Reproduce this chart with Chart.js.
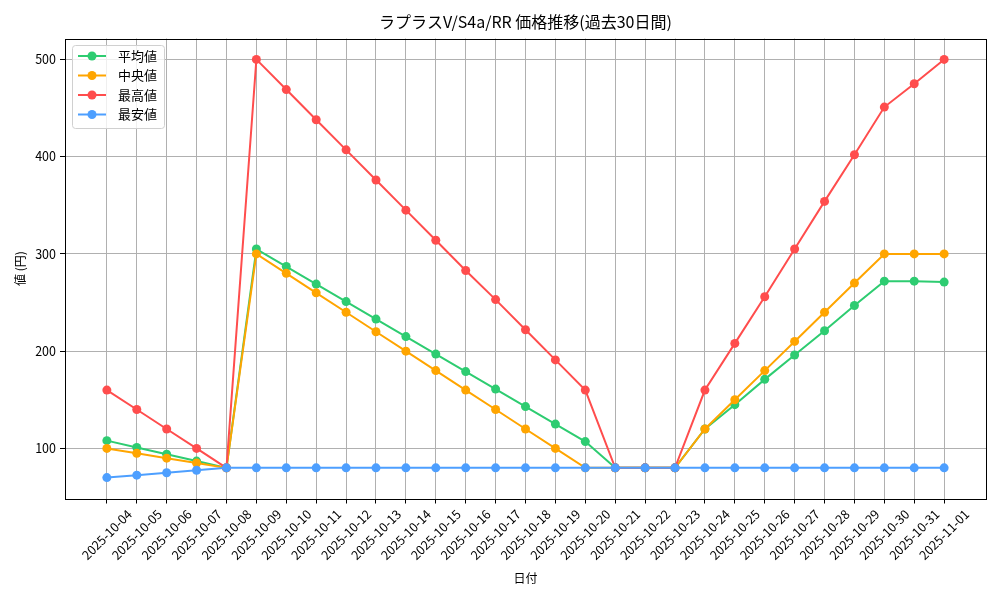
<!DOCTYPE html>
<html lang="ja">
<head>
<meta charset="utf-8">
<script src="https://cdn.jsdelivr.net/npm/chart.js@4/dist/chart.umd.min.js"></script>
<style>
  html,body{margin:0;padding:0;background:#fff;}
  #wrap{width:1000px;height:600px;}
</style>
</head>
<body>
<div id="wrap"><canvas id="c" width="1000" height="600"></canvas></div>
<script>
const FONT = '"Noto Sans CJK JP", "DejaVu Sans", sans-serif';

const dates = ['2025-10-04','2025-10-05','2025-10-06','2025-10-07','2025-10-08','2025-10-09','2025-10-10',
  '2025-10-11','2025-10-12','2025-10-13','2025-10-14','2025-10-15','2025-10-16','2025-10-17','2025-10-18',
  '2025-10-19','2025-10-20','2025-10-21','2025-10-22','2025-10-23','2025-10-24','2025-10-25','2025-10-26',
  '2025-10-27','2025-10-28','2025-10-29','2025-10-30','2025-10-31','2025-11-01'];

const avgVals = [108,101,94,87,80,305,287,269,251,233,215,197,179,161,143,125,107,80,80,80,120,145,171,196,221,247,272,272,271];
const medVals = [100,95,90,85,80,300,280,260,240,220,200,180,160,140,120,100,80,80,80,80,120,150,180,210,240,270,300,300,300];
const maxVals = [160,140,120,100,80,500,469,438,407,376,345,314,283,253,222,191,160,80,80,80,160,208,256,305,354,402,451,475,500];
const minVals = [70,72.5,75,77.5,80,80,80,80,80,80,80,80,80,80,80,80,80,80,80,80,80,80,80,80,80,80,80,80,80];

const yTicks = [100,200,300,400,500];
const seriesNames = ['平均値','中央値','最高値','最安値'];
const colors = ['#2ecc71','#ffa500','#ff4d4d','#4d9fff'];
const titleText = 'ラプラスV/S4a/RR 価格推移(過去30日間)';

const pts = arr => arr.map((v,i)=>({x:i, y:v}));

function ds(i, vals){
  return {
    label: seriesNames[i], data: pts(vals),
    borderColor: colors[i], backgroundColor: colors[i],
    borderWidth: 2, pointRadius: 4.5, pointHoverRadius: 4.5,
    pointBorderWidth: 0, tension: 0, order: 4 - i
  };
}

// frame, title, rotated date labels (centred on ticks) and in-plot legend
const decor = {
  id:'decor',
  afterDatasetsDraw(chart){
    const {ctx, chartArea:a} = chart;
    const xs = chart.scales.x;
    ctx.save();
    ctx.strokeStyle = '#000'; ctx.lineWidth = 1;
    ctx.strokeRect(Math.round(a.left)+0.5, Math.round(a.top)+0.5, Math.round(a.right-a.left), Math.round(a.bottom-a.top));

    // x tick labels, rotated 45deg, bbox centred under the tick
    ctx.font = '12.5px ' + FONT;
    ctx.fillStyle = '#000';
    ctx.textAlign = 'center'; ctx.textBaseline = 'middle';
    const h = 12.5, c = Math.SQRT1_2;
    dates.forEach((d,i)=>{
      const w = ctx.measureText(d).width;
      const side = (w + h) * c;
      const px = xs.getPixelForValue(i);
      const py = a.bottom + 5 + 4 + side/2;
      ctx.save();
      ctx.translate(px, py);
      ctx.rotate(-Math.PI/4);
      ctx.fillText(d, 0, 0);
      ctx.restore();
    });

    // legend
    const lx = 72, ly = 45, lw = 92, lh = 83;
    ctx.fillStyle = 'rgba(255,255,255,0.8)';
    ctx.strokeStyle = '#d0d0d0';
    ctx.beginPath();
    ctx.roundRect(lx+0.5, ly+0.5, lw, lh, 3);
    ctx.fill(); ctx.stroke();
    ctx.font = '13px ' + FONT;
    ctx.textAlign = 'left';
    ctx.textBaseline = 'middle';
    seriesNames.forEach((n,i)=>{
      const y = ly + 11 + i*19.5;
      ctx.strokeStyle = colors[i]; ctx.lineWidth = 2;
      ctx.beginPath(); ctx.moveTo(lx+6, y); ctx.lineTo(lx+34, y); ctx.stroke();
      ctx.fillStyle = colors[i];
      ctx.beginPath(); ctx.arc(lx+20, y, 4.5, 0, Math.PI*2); ctx.fill();
      ctx.fillStyle = '#000';
      ctx.fillText(n, lx+46, y);
    });

    ctx.font = '16px ' + FONT;
    ctx.textAlign = 'center';
    ctx.fillText(titleText, (a.left+a.right)/2, 22);
    ctx.restore();
  }
};

new Chart(document.getElementById('c'), {
  type:'line',
  data:{ datasets:[ds(0,avgVals), ds(1,medVals), ds(2,maxVals), ds(3,minVals)] },
  options:{
    responsive:false, animation:false,
    layout:{padding:{left:0, right:14, top:38.5, bottom:0}},
    plugins:{legend:{display:false}, tooltip:{enabled:false}, title:{display:false}},
    scales:{
      x:{
        type:'linear', min:-1.4, max:29.4,
        afterBuildTicks: s => { s.ticks = dates.map((d,i)=>({value:i})); },
        afterFit: s => { s.height = 101.5; },
        ticks:{ display:false },
        grid:{ color:'#b0b0b0', lineWidth:1, tickColor:'#000', tickLength:5 },
        border:{display:false},
        title:{display:true, text:'日付', color:'#000', font:{family:FONT, size:12}, padding:{top:0,bottom:14}}
      },
      y:{
        min:48.5, max:521.5,
        afterBuildTicks: s => { s.ticks = yTicks.map(v=>({value:v})); },
        afterFit: s => { s.width = 65; },
        ticks:{ color:'#000', font:{family:FONT, size:12.5}, padding:4 },
        grid:{ color:'#b0b0b0', lineWidth:1, tickColor:'#000', tickLength:5 },
        border:{display:false},
        title:{display:true, text:'値 (円)', color:'#000', font:{family:FONT, size:12}, padding:{top:13,bottom:0}}
      }
    }
  },
  plugins:[decor]
});
</script>
</body>
</html>
